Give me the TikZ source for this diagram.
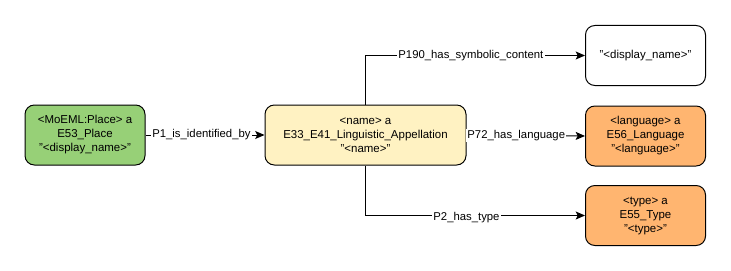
\documentclass[tikz,border=0pt]{standalone}
\usepackage{fontspec}
\setmainfont{Liberation Sans}
\usetikzlibrary{arrows.meta}
\definecolor{placegreen}{HTML}{97D077}
\definecolor{appelyellow}{HTML}{FFF2C2}
\definecolor{typeorange}{HTML}{FFB570}
\tikzset{
  entity/.style={draw=black, line width=0.75pt, rounded corners=7pt, align=center,
    minimum width=90pt, minimum height=45pt, inner sep=2pt,
    font=\fontsize{8.6}{10.5}\selectfont},
  prop/.style={line width=0.75pt, -{Stealth[length=7pt,width=6pt,inset=1.5pt]}},
  proplabel/.style={fill=white, inner sep=1pt, font=\fontsize{8.5}{10}\selectfont}
}
\begin{document}
\begin{tikzpicture}[x=0.75pt,y=-0.75pt]
	\useasboundingbox (0,0) rectangle (731,271);
	% entities
	\node[entity, fill=placegreen] (place) at (85,135) {<MoEML:Place> a\\E53\_Place\\"<display\_name>"};
	\node[entity, fill=appelyellow, minimum width=150.75pt] (appel) at (365.5,135) {<name> a\\E33\_E41\_Linguistic\_Appellation\\"<name>"};
	\node[entity, fill=white] (symbol) at (645.5,55.5) {"<display\_name>"};
	\node[entity, fill=typeorange] (lang) at (645.5,136) {<language> a\\E56\_Language\\"<language>"};
	\node[entity, fill=typeorange] (type) at (645.5,215.5) {<type> a\\E55\_Type\\"<type>"};
	% properties
	\draw[prop] (place) -- node[proplabel, pos=0.47] {P1\_is\_identified\_by} (appel);
	\draw[prop] (appel.north) |- node[proplabel, pos=0.74] {P190\_has\_symbolic\_content} (symbol.west);
	\draw[prop] (appel.east) -- node[proplabel, pos=0.42] {P72\_has\_language} (lang.west);
	\draw[prop] (appel.south) |- node[proplabel, pos=0.73, yshift=-1.5pt] {P2\_has\_type} (type.west);
\end{tikzpicture}
\end{document}
